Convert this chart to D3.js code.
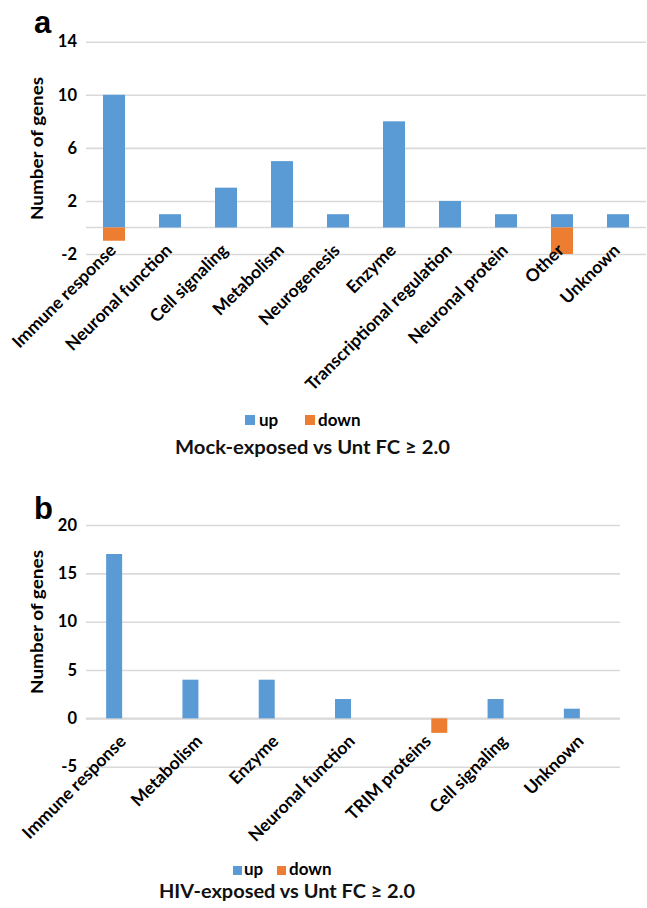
<!DOCTYPE html>
<html>
<head>
<meta charset="utf-8">
<script src="https://cdn.jsdelivr.net/npm/d3@7"></script>
<style>
  html, body { margin: 0; padding: 0; background: #fff; }
  svg { display: block; font-family: Lato, "Open Sans", sans-serif; }
</style>
</head>
<body>
<svg id="chart" width="647" height="908"></svg>
<script>
// ---- Data ----
const seriesNames = ["up", "down"];
const catsA = ["Immune response", "Neuronal function", "Cell signaling", "Metabolism", "Neurogenesis",
               "Enzyme", "Transcriptional regulation", "Neuronal protein", "Other", "Unknown"];
const upA   = [10, 1, 3, 5, 1, 8, 2, 1, 1, 1];
const downA = [-1, 0, 0, 0, 0, 0, 0, 0, -2, 0];
const ticksA = [-2, 2, 6, 10, 14];
const titleA = "Mock-exposed vs Unt FC \u2265 2.0";

const catsB = ["Immune response", "Metabolism", "Enzyme", "Neuronal function", "TRIM proteins",
               "Cell signaling", "Unknown"];
const upB   = [17, 4, 4, 2, 0, 2, 1];
const downB = [0, 0, 0, 0, -1.5, 0, 0];
const ticksB = [-5, 0, 5, 10, 15, 20];
const titleB = "HIV-exposed vs Unt FC \u2265 2.0";

const colors = { up: "#5B9BD5", down: "#ED7D31" };
const gridColor = "#D9D9D9";

const svg = d3.select("#chart");

function panel(opts) {
  const { cats, up, down, ticks, yDomain, yRange, xRange, grouped, letter, letterY,
          axisTitleY, axisTitleLen, legend, title } = opts;
  const g = svg.append("g");
  const y = d3.scaleLinear().domain(yDomain).range(yRange);
  const x = d3.scaleBand().domain(cats).range(xRange).paddingInner(0).paddingOuter(0);
  const plotW = xRange[1] - xRange[0];

  // gridlines + y tick labels
  const yAxis = g.append("g").attr("transform", `translate(${xRange[0]},0)`)
    .call(d3.axisLeft(y).tickValues(ticks).tickSize(-plotW).tickPadding(9).tickFormat(d => String(d)));
  yAxis.select(".domain").remove();
  yAxis.selectAll(".tick line").attr("stroke", gridColor).attr("stroke-width", 1.6);
  yAxis.selectAll(".tick text").attr("fill", "#000").attr("font-size", 16.5)
    .attr("font-weight", 700).attr("font-family", "Lato, sans-serif");

  // zero line (horizontal axis)
  g.append("line").attr("x1", xRange[0]).attr("x2", xRange[1])
    .attr("y1", y(0)).attr("y2", y(0)).attr("stroke", gridColor).attr("stroke-width", 1.6);

  // bars
  const rows = cats.map((c, i) => ({ cat: c, up: up[i], down: down[i] }));
  const bw = x.bandwidth();
  let x1;
  if (grouped) {
    x1 = d3.scaleBand().domain(seriesNames).range([bw / 2 - 18, bw / 2 + 18]).paddingInner(0.2).paddingOuter(0);
  } else {
    x1 = d3.scaleBand().domain(seriesNames).range([bw / 2 - 11, bw / 2 + 11]).paddingInner(0).paddingOuter(0);
  }
  seriesNames.forEach(s => {
    g.append("g").selectAll("rect").data(rows.filter(d => d[s] !== 0)).join("rect")
      .attr("x", d => x(d.cat) + (grouped ? x1(s) : x1.range()[0]))
      .attr("width", grouped ? x1.bandwidth() : (x1.range()[1] - x1.range()[0]))
      .attr("y", d => y(Math.max(0, d[s])))
      .attr("height", d => Math.abs(y(d[s]) - y(0)))
      .attr("fill", colors[s]);
  });

  // x category labels
  const xAxis = g.append("g").attr("transform", `translate(0,${y(0)})`)
    .call(d3.axisBottom(x).tickSize(0));
  xAxis.select(".domain").remove();
  xAxis.selectAll(".tick text")
    .attr("y", null).attr("dy", null)
    .attr("text-anchor", "end")
    .attr("transform", "translate(3,24) rotate(-45)")
    .attr("fill", "#000").attr("font-size", 17.5).attr("font-weight", 700)
    .attr("font-family", "Lato, sans-serif");

  // y axis title
  g.append("text").attr("transform", `translate(43,${axisTitleY}) rotate(-90)`)
    .attr("text-anchor", "middle").attr("font-size", 17).attr("font-weight", 700)
    .attr("textLength", axisTitleLen).attr("lengthAdjust", "spacingAndGlyphs")
    .text("Number of genes");

  // panel letter
  g.append("text").attr("x", 34).attr("y", letterY)
    .attr("font-family", "'Liberation Sans', Arial, sans-serif")
    .attr("font-size", 31).attr("font-weight", 700).text(letter);

  // legend
  const lg = g.append("g");
  legend.items.forEach((it, i) => {
    lg.append("rect").attr("x", it.sx).attr("y", legend.sy).attr("width", legend.ss).attr("height", legend.ss)
      .attr("fill", colors[seriesNames[i]]);
    lg.append("text").attr("x", it.tx).attr("y", legend.ty).attr("font-size", 17).attr("font-weight", 700)
      .text(seriesNames[i]);
  });

  // title
  g.append("text").attr("x", title.cx).attr("y", title.y).attr("text-anchor", "middle")
    .attr("font-size", 19).attr("font-weight", 700).attr("fill", "#111")
    .attr("textLength", title.len).attr("lengthAdjust", "spacingAndGlyphs")
    .text(title.text);
}

panel({
  cats: catsA, up: upA, down: downA, ticks: ticksA,
  yDomain: [-2, 14], yRange: [254, 41.7], xRange: [86, 646], grouped: false,
  letter: "a", letterY: 33, axisTitleY: 148.5, axisTitleLen: 143,
  legend: { sy: 415, ss: 10, ty: 425.5, items: [{ sx: 245, tx: 259 }, { sx: 305, tx: 318 }] },
  title: { cx: 312.5, y: 453.5, len: 275, text: titleA }
});

panel({
  cats: catsB, up: upB, down: downB, ticks: ticksB,
  yDomain: [-5, 20], yRange: [766.7, 525], xRange: [86, 620], grouped: true,
  letter: "b", letterY: 519, axisTitleY: 622, axisTitleLen: 144,
  legend: { sy: 866, ss: 9, ty: 875, items: [{ sx: 233, tx: 244 }, { sx: 277, tx: 289 }] },
  title: { cx: 287, y: 898, len: 256, text: titleB }
});
</script>
</body>
</html>
